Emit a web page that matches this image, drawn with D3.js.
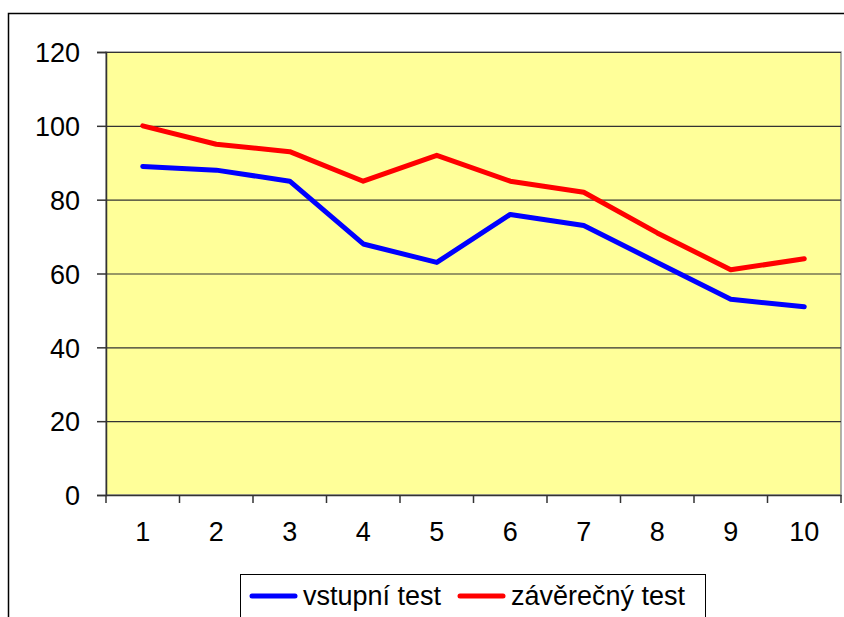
<!DOCTYPE html>
<html>
<head>
<meta charset="utf-8">
<script src="https://cdn.jsdelivr.net/npm/d3@7"></script>
<style>
  body { margin: 0; background: #fff; }
  svg { display: block; font-family: "Liberation Sans", Arial, Helvetica, sans-serif; }
</style>
</head>
<body>
<div id="chart"></div>
<script>
var W = 844, H = 617;

var categories = ["1", "2", "3", "4", "5", "6", "7", "8", "9", "10"];
var vstupni = [89, 88, 85, 68, 63, 76, 73, 63, 53, 51];
var zaverecny = [100, 95, 93, 85, 92, 85, 82, 71, 61, 64];
var yTicks = [0, 20, 40, 60, 80, 100, 120];
var seriesNames = ["vstupní test", "závěrečný test"];
var colors = ["#0000ff", "#ff0000"];

var plot = {left: 106, top: 52, right: 841, bottom: 495};

var svg = d3.select("#chart").append("svg")
	.attr("width", W)
	.attr("height", H);

// outer chart frame (runs off right and bottom)
svg.append("rect")
	.attr("x", 8.5)
	.attr("y", 13.5)
	.attr("width", W)
	.attr("height", H)
	.attr("fill", "#fff")
	.attr("stroke", "#000")
	.attr("stroke-width", 1.5);

var x = d3.scaleBand()
	.domain(categories)
	.range([plot.left, plot.right]);

var y = d3.scaleLinear()
	.domain([0, 120])
	.range([plot.bottom, plot.top]);

// plot area
svg.append("rect")
	.attr("x", plot.left)
	.attr("y", plot.top)
	.attr("width", plot.right - plot.left)
	.attr("height", plot.bottom - plot.top)
	.attr("fill", "#ffff99")
	.attr("stroke", "#999")
	.attr("stroke-width", 1.5);

// gridlines
svg.append("g").selectAll("line")
	.data(yTicks.filter(d => d > 0))
	.enter()
	.append("line")
	.attr("x1", plot.left)
	.attr("x2", plot.right)
	.attr("y1", d => y(d) + 0.5)
	.attr("y2", d => y(d) + 0.5)
	.attr("stroke", "#333")
	.attr("stroke-width", 1.2);

// y axis
var yAxis = svg.append("g")
	.attr("transform", "translate(" + plot.left + ",0)")
	.call(d3.axisLeft(y).tickValues(yTicks).tickSize(9).tickPadding(17));
yAxis.select(".domain").attr("stroke", "#333").attr("stroke-width", 1.5);
yAxis.selectAll(".tick line").attr("stroke", "#333").attr("stroke-width", 1.5);
yAxis.selectAll("text")
	.style("font-size", "27px")
	.attr("fill", "#000")
	.attr("dy", "0.36em");

// x axis
var xAxis = svg.append("g")
	.attr("transform", "translate(0," + plot.bottom + ")")
	.call(d3.axisBottom(x).tickSize(0).tickPadding(27));
xAxis.select(".domain").attr("stroke", "#333").attr("stroke-width", 1.5);
xAxis.selectAll("text")
	.style("font-size", "27px")
	.attr("fill", "#000");

// x ticks between categories
var bounds = categories.map(c => x(c)).concat([plot.right]);
svg.append("g").selectAll("line")
	.data(bounds)
	.enter()
	.append("line")
	.attr("x1", d => d)
	.attr("x2", d => d)
	.attr("y1", plot.bottom)
	.attr("y2", plot.bottom + 8)
	.attr("stroke", "#333")
	.attr("stroke-width", 1.5);

// series lines
var line = d3.line()
	.x((d, i) => x(categories[i]) + x.bandwidth() / 2)
	.y(d => y(d));

[vstupni, zaverecny].forEach(function(vals, k) {
	svg.append("path")
		.datum(vals)
		.attr("d", line)
		.attr("fill", "none")
		.attr("stroke", colors[k])
		.attr("stroke-width", 5)
		.attr("stroke-linejoin", "round")
		.attr("stroke-linecap", "round");
});

// legend
var lg = svg.append("g");
lg.append("rect")
	.attr("x", 240.5)
	.attr("y", 574.5)
	.attr("width", 465)
	.attr("height", 60)
	.attr("fill", "#fff")
	.attr("stroke", "#000")
	.attr("stroke-width", 1);

var legendX = [250, 458];
seriesNames.forEach(function(name, k) {
	lg.append("line")
		.attr("x1", legendX[k] + 2)
		.attr("x2", legendX[k] + 45)
		.attr("y1", 596)
		.attr("y2", 596)
		.attr("stroke", colors[k])
		.attr("stroke-width", 5)
		.attr("stroke-linecap", "round");
	lg.append("text")
		.attr("x", legendX[k] + 53)
		.attr("y", 605)
		.style("font-size", "27px")
		.attr("fill", "#000")
		.text(name);
});
</script>
</body>
</html>
